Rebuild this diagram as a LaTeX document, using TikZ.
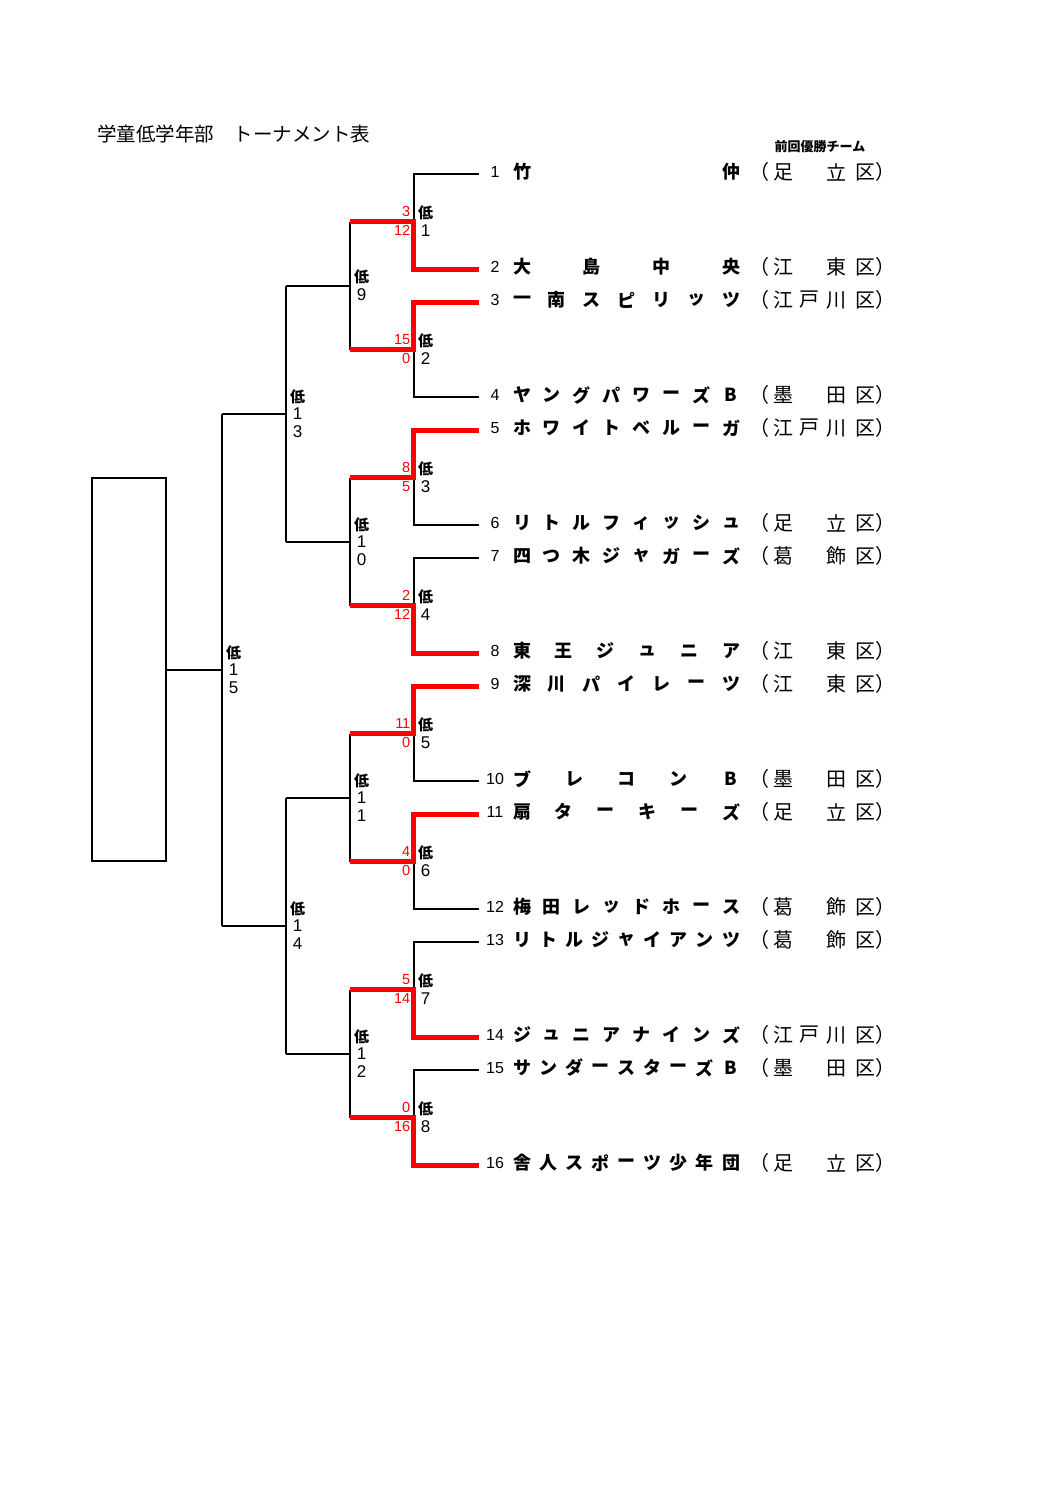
\documentclass[tikz,border=0pt]{standalone}
\usepackage{fontspec}
\newfontfamily\jp{Noto Sans CJK JP}
\newfontfamily\arial{Liberation Sans}
\newcommand\labtwo[4]{%
  \node[lab] (#1a) at (#2,#3-9) {低};
  \node[labnum] (#1b) at (#2,#3+9.5) {#4};}
\newcommand\labthree[5]{%
  \node[lab] (#1a) at (#2,#3-17) {低};
  \node[labnum] (#1b) at (#2,#3) {#4};
  \node[labnum] (#1c) at (#2,#3+18.5) {#5};}
\begin{document}
\begin{tikzpicture}[x=1pt,y=-1pt,
  bl/.style={line width=2pt, black, line join=miter},
  rd/.style={line width=5pt, red, line join=miter},
  teamnum/.style={font=\arial\fontsize{16}{16}\selectfont, inner sep=0pt},
  namech/.style={font=\jp\bfseries\fontsize{18}{18}\selectfont, inner sep=0pt},
  distch/.style={font=\jp\fontsize{20}{20}\selectfont, inner sep=0pt},
  lab/.style={font=\jp\bfseries\fontsize{15}{15}\selectfont, inner sep=0pt},
  labnum/.style={font=\arial\fontsize{17}{17}\selectfont, inner sep=0pt},
  score/.style={font=\arial\fontsize{14.5}{14.5}\selectfont, text=red, inner sep=0pt},
  titlef/.style={font=\jp\fontsize{19.5}{19.5}\selectfont, inner sep=0pt},
  smallf/.style={font=\jp\bfseries\fontsize{13}{13}\selectfont, inner sep=0pt},
]
\useasboundingbox[fill=white] (0,0) rectangle (1058,1497);

% title
\node[titlef, anchor=west] (title) at (97,134) {学童低学年部　トーナメント表};
\node[smallf] (prev) at (820,147) {前回優勝チーム};

% teams
\foreach \n/\nc/\chars/\dist in {
  1/2/{竹,仲}/{足,,立},
  2/4/{大,島,中,央}/{江,,東},
  3/7/{一,南,ス,ピ,リ,ッ,ツ}/{江,戸,川},
  4/8/{ヤ,ン,グ,パ,ワ,ー,ズ,B}/{墨,,田},
  5/8/{ホ,ワ,イ,ト,ベ,ル,ー,ガ}/{江,戸,川},
  6/8/{リ,ト,ル,フ,ィ,ッ,シ,ュ}/{足,,立},
  7/8/{四,つ,木,ジ,ャ,ガ,ー,ズ}/{葛,,飾},
  8/6/{東,王,ジ,ュ,ニ,ア}/{江,,東},
  9/7/{深,川,パ,イ,レ,ー,ツ}/{江,,東},
  10/5/{ブ,レ,コ,ン,B}/{墨,,田},
  11/6/{扇,タ,ー,キ,ー,ズ}/{足,,立},
  12/8/{梅,田,レ,ッ,ド,ホ,ー,ス}/{葛,,飾},
  13/9/{リ,ト,ル,ジ,ャ,イ,ア,ン,ツ}/{葛,,飾},
  14/8/{ジ,ュ,ニ,ア,ナ,イ,ン,ズ}/{江,戸,川},
  15/9/{サ,ン,ダ,ー,ス,タ,ー,ズ,B}/{墨,,田},
  16/9/{舎,人,ス,ポ,ー,ツ,少,年,団}/{足,,立}} {
  \pgfmathsetmacro\ty{mod(\n,2)==1 ? 174+64*(\n-1) : 269+64*(\n-2)}
  \coordinate (t\n) at (479,\ty);
  \node[teamnum] (num\n) at (495,\ty-2) {\n};
  \foreach \c [count=\j from 0] in \chars {
    \pgfmathsetmacro\xx{522+\j*209/(\nc-1)}
    \node[namech] (n\n-\j) at (\xx,\ty-2) {\c};
  }
  \node[distch, anchor=east] (lp\n) at (770,\ty-2) {（};
  \foreach \c [count=\j from 0] in \dist {
    \pgfmathsetmacro\xx{783+\j*26.5}
    \node[distch] (d\n-\j) at (\xx,\ty-2) {\c};
  }
  \node[distch, anchor=west] (rp\n) at (855,\ty-2) {区）};
}

% round 1 coordinates
\foreach \k in {1,...,8} {
  \pgfmathsetmacro\ym{221.5+128*(\k-1)}
  \coordinate (m\k) at (413.5,\ym);
  \coordinate (s\k) at (349.5,\ym);
}
% round 2
\foreach \j in {1,...,4} {
  \pgfmathtruncatemacro\sa{2*\j-1}
  \pgfmathtruncatemacro\sb{2*\j}
  \pgfmathsetmacro\ym{285.5+256*(\j-1)}
  \coordinate (q\j) at (349.5,\ym);
  \coordinate (ql\j) at (285.5,\ym);
  \draw[bl] (s\sa) -- (s\sb);
  \draw[bl] (q\j) -- (ql\j);
}
% round 3
\coordinate (r1) at (285.5,413.5);
\coordinate (r2) at (285.5,925.5);
\coordinate (f1) at (221.5,413.5);
\coordinate (f2) at (221.5,925.5);
\coordinate (fm) at (221.5,669.5);
\draw[bl] (ql1) -- (ql2);
\draw[bl] (ql3) -- (ql4);
\draw[bl] (r1) -- (f1);
\draw[bl] (r2) -- (f2);
\draw[bl] (f1) -- (f2);
\node[draw, line width=2pt, minimum width=74pt, minimum height=383pt, inner sep=0pt] (box) at (129,669.5) {};
\draw[bl] (fm) -- (box.east);

% round 1 matches
\foreach \k/\a/\b in {1/3/12, 2/15/0, 3/8/5, 4/2/12, 5/11/0, 6/4/0, 7/5/14, 8/0/16} {
  \pgfmathtruncatemacro\tta{2*\k-1}
  \pgfmathtruncatemacro\ttb{2*\k}
  \pgfmathsetmacro\ym{221.5+128*(\k-1)}
  \ifnum\a>\b
    \draw[bl] (t\ttb) -| (m\k);
    \draw[rd] (t\tta) -| (m\k) -- (s\k);
  \else
    \draw[bl] (t\tta) -| (m\k);
    \draw[rd] (t\ttb) -| (m\k) -- (s\k);
  \fi
  \node[score, anchor=east] (sa\k) at (410.5,\ym-10) {\a};
  \node[score, anchor=east] (sb\k) at (410.5,\ym+9) {\b};
  \labtwo{L\k}{425.5}{\ym}{\k}
}

% higher round labels
\labtwo{L9}{361.5}{285.5}{9}
\labthree{L10}{361.5}{541.5}{1}{0}
\labthree{L11}{361.5}{797.5}{1}{1}
\labthree{L12}{361.5}{1053.5}{1}{2}
\labthree{L13}{297.5}{413.5}{1}{3}
\labthree{L14}{297.5}{925.5}{1}{4}
\labthree{L15}{233.5}{669.5}{1}{5}
\end{tikzpicture}
\end{document}
